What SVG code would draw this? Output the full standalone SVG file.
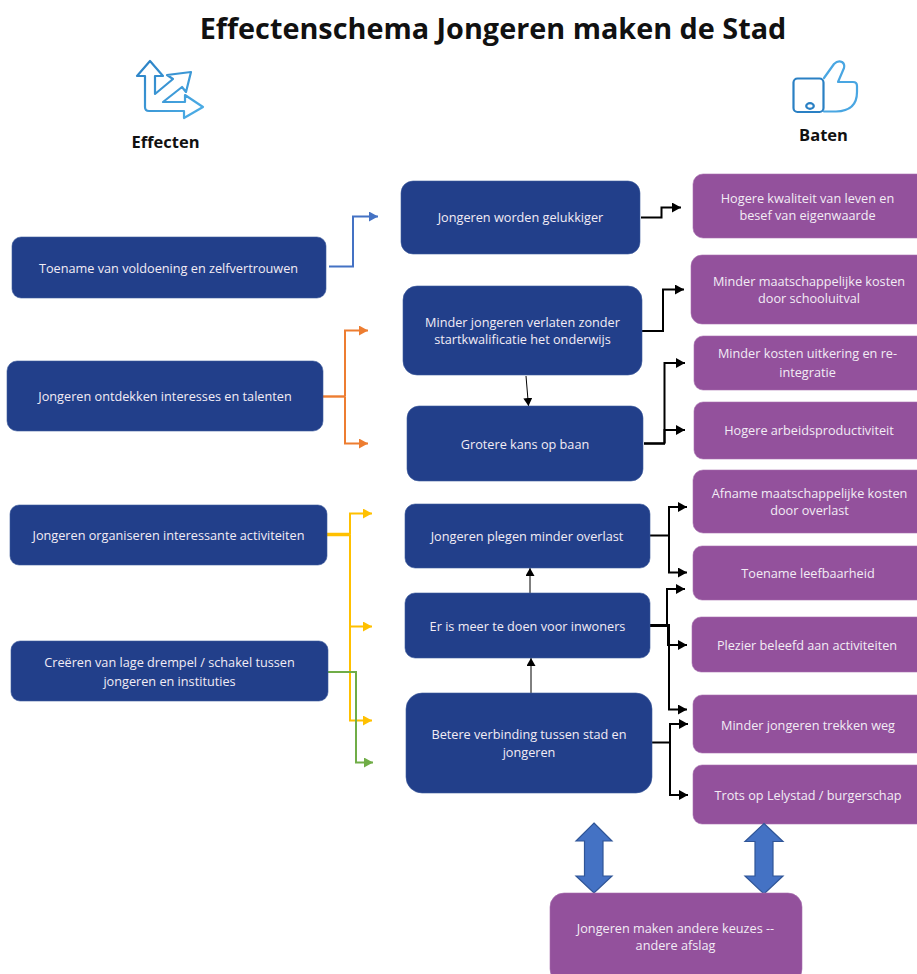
<svg xmlns="http://www.w3.org/2000/svg" width="917" height="974" viewBox="0 0 917 974">
<style>
text{font-family:"Open Sans","Noto Sans","Liberation Sans",sans-serif;text-anchor:middle}
.t{font-size:12.7px;fill:#f2ecf5}
.b rect{fill:#223f8a;stroke:#3d5a9c;stroke-width:.6}
.p rect{fill:#93519c;stroke:#a871b0;stroke-width:.6}
.h{font-weight:700;fill:#111;font-size:16.5px}
#connectors path{fill:none}
.k{stroke:#000;stroke-width:2}
.dbl{fill:#4472c4;stroke:#2f5597;stroke-width:1.2}
.ic{fill:none;stroke-linejoin:round;stroke-linecap:round;stroke-width:2.2}
</style>
<defs>
<linearGradient id="gi" x1="0" y1="0" x2="1" y2="1"><stop offset="0" stop-color="#2a80c4"/><stop offset="1" stop-color="#4fb0e8"/></linearGradient>
<marker id="mk" markerUnits="userSpaceOnUse" markerWidth="9" markerHeight="10" refX="9" refY="5" orient="auto"><path d="M0 0L9 5L0 10Z" fill="#000"/></marker>
<marker id="mb" markerUnits="userSpaceOnUse" markerWidth="9" markerHeight="10" refX="9" refY="5" orient="auto"><path d="M0 0L9 5L0 10Z" fill="#4472c4"/></marker>
<marker id="mo" markerUnits="userSpaceOnUse" markerWidth="9" markerHeight="10" refX="9" refY="5" orient="auto"><path d="M0 0L9 5L0 10Z" fill="#ed7d31"/></marker>
<marker id="my" markerUnits="userSpaceOnUse" markerWidth="9" markerHeight="10" refX="9" refY="5" orient="auto"><path d="M0 0L9 5L0 10Z" fill="#ffc000"/></marker>
<marker id="mg" markerUnits="userSpaceOnUse" markerWidth="9" markerHeight="10" refX="9" refY="5" orient="auto"><path d="M0 0L9 5L0 10Z" fill="#70ad47"/></marker>
<marker id="ms" markerUnits="userSpaceOnUse" markerWidth="8" markerHeight="9" refX="8" refY="4.5" orient="auto"><path d="M0 0L8 4.5L0 9Z" fill="#000"/></marker>
</defs>
<text x="493" y="39" font-size="28.800" font-weight="700" fill="#111">Effectenschema Jongeren maken de Stad</text>

<g id="icon-effecten" class="ic">
<path stroke="url(#gi)" d="M150 61L163 76H155V94L173 79L167 75L191 72L186 92L182 87L163 102H185V95L203 107L184 118V111H149Q145 111 145 107V76H137Z"/>
</g>
<text class="h" x="165.500" y="147.500">Effecten</text>

<g id="icon-baten" class="ic">
<rect x="793.500" y="78.500" width="30" height="33.500" rx="4" stroke="#2a80c4"/>
<ellipse cx="810" cy="106" rx="3.800" ry="2.800" stroke="#2a80c4"/>
<path stroke="#49a6e2" d="M824 78L834 64Q838 60 842 62Q845 64 844 68L838 82H853Q857 82 857 86V92Q857 111 836 111.500H824"/>
</g>
<text class="h" x="823.500" y="140.500">Baten</text>

<g id="connectors">
<path stroke="#4472c4" stroke-width="2" marker-end="url(#mb)" d="M329 266.500H353V216.500H378"/>
<path stroke="#ed7d31" stroke-width="2.400" d="M323 396.500H345"/>
<path stroke="#ed7d31" stroke-width="2" marker-end="url(#mo)" d="M345 396.500V330.500H368"/>
<path stroke="#ed7d31" stroke-width="2" marker-end="url(#mo)" d="M345 396.500V443.500H368"/>
<path stroke="#ffc000" stroke-width="3.500" d="M327 534.500H350"/>
<path stroke="#ffc000" stroke-width="2" marker-end="url(#my)" d="M350 534.500V513.500H372"/>
<path stroke="#ffc000" stroke-width="2" marker-end="url(#my)" d="M350 534.500V626.500H372"/>
<path stroke="#ffc000" stroke-width="2" marker-end="url(#my)" d="M350 534.500V720.500H372"/>
<path stroke="#70ad47" stroke-width="2" marker-end="url(#mg)" d="M328 672H356V762.500H373"/>

<path class="k" marker-end="url(#mk)" d="M641 217.500H661.500V207.500H681"/>
<path class="k" marker-end="url(#mk)" d="M642 331H663V289.500H684"/>
<path stroke="#000" stroke-width="2.600" d="M644 443.500H665"/>
<path class="k" marker-end="url(#mk)" d="M664.500 443.500V363H685"/>
<path class="k" marker-end="url(#mk)" d="M664.500 443.500V430H685"/>
<path class="k" marker-end="url(#mk)" d="M650 535.500H669V507H687"/>
<path class="k" marker-end="url(#mk)" d="M669 535.500V572.500H687"/>
<path stroke="#000" stroke-width="3" d="M650 625.500H668.500V645"/>
<path class="k" marker-end="url(#mk)" d="M667 625.500V589H685"/>
<path class="k" marker-end="url(#mk)" d="M667 645H687"/>
<path class="k" marker-end="url(#mk)" d="M669 625.500V709.500H687"/>
<path class="k" marker-end="url(#mk)" d="M652 742.500H670V724H688"/>
<path class="k" marker-end="url(#mk)" d="M670 742.500V795H688"/>
<path stroke="#000" stroke-width="1" marker-end="url(#ms)" d="M526 376L528.500 406"/>
<path stroke="#000" stroke-width="1" marker-end="url(#ms)" d="M530 593V568"/>
<path stroke="#000" stroke-width="1" marker-end="url(#ms)" d="M531 693V658"/>
</g>

<g id="n1" class="b"><rect x="12" y="237" width="314" height="61" rx="9"/><text class="t" x="168.500" y="272.500">Toename van voldoening en zelfvertrouwen</text></g>
<g id="n2" class="b"><rect x="7" y="361" width="316" height="70" rx="10"/><text class="t" x="165" y="400.500">Jongeren ontdekken interesses en talenten</text></g>
<g id="n3" class="b"><rect x="10" y="505" width="317" height="60" rx="9"/><text class="t" x="168.500" y="539.500">Jongeren organiseren interessante activiteiten</text></g>
<g id="n4" class="b"><rect x="11" y="641" width="317" height="60" rx="9"/><text class="t" x="169.500" y="666.500">Creëren van lage drempel / schakel tussen</text><text class="t" x="169.500" y="685.500">jongeren en instituties</text></g>
<g id="n5" class="b"><rect x="401" y="181" width="239" height="73" rx="12"/><text class="t" x="520.500" y="222">Jongeren worden gelukkiger</text></g>
<g id="n6" class="b"><rect x="403" y="286" width="239" height="89" rx="14"/><text class="t" x="522.500" y="327">Minder jongeren verlaten zonder</text><text class="t" x="522.500" y="344">startkwalificatie het onderwijs</text></g>
<g id="n7" class="b"><rect x="407" y="406" width="236" height="75" rx="12"/><text class="t" x="525" y="449">Grotere kans op baan</text></g>
<g id="n8" class="b"><rect x="405" y="504" width="245" height="64" rx="10"/><text class="t" x="527" y="541">Jongeren plegen minder overlast</text></g>
<g id="n9" class="b"><rect x="405" y="593" width="245" height="65" rx="10"/><text class="t" x="527.500" y="631">Er is meer te doen voor inwoners</text></g>
<g id="n10" class="b"><rect x="406" y="693" width="246" height="100" rx="16"/><text class="t" x="529" y="739">Betere verbinding tussen stad en</text><text class="t" x="529" y="757">jongeren</text></g>

<g id="b1" class="p"><rect x="693" y="174" width="240" height="64" rx="10"/><text class="t" x="807.500" y="203">Hogere kwaliteit van leven en</text><text class="t" x="807.500" y="220">besef van eigenwaarde</text></g>
<g id="b2" class="p"><rect x="691" y="255" width="240" height="69" rx="11"/><text class="t" x="809" y="286">Minder maatschappelijke kosten</text><text class="t" x="809" y="303">door schooluitval</text></g>
<g id="b3" class="p"><rect x="694" y="336" width="240" height="54" rx="9"/><text class="t" x="807.500" y="358">Minder kosten uitkering en re-</text><text class="t" x="807.500" y="377">integratie</text></g>
<g id="b4" class="p"><rect x="694" y="402" width="240" height="57" rx="9"/><text class="t" x="809" y="435">Hogere arbeidsproductiviteit</text></g>
<g id="b5" class="p"><rect x="693" y="470" width="240" height="63" rx="10"/><text class="t" x="809.500" y="498">Afname maatschappelijke kosten</text><text class="t" x="809.500" y="515">door overlast</text></g>
<g id="b6" class="p"><rect x="693" y="546" width="240" height="54" rx="9"/><text class="t" x="808" y="578">Toename leefbaarheid</text></g>
<g id="b7" class="p"><rect x="692" y="617" width="240" height="55" rx="9"/><text class="t" x="807" y="650">Plezier beleefd aan activiteiten</text></g>
<g id="b8" class="p"><rect x="693" y="695" width="240" height="58" rx="9"/><text class="t" x="808" y="730">Minder jongeren trekken weg</text></g>
<g id="b9" class="p"><rect x="693" y="765" width="240" height="59" rx="9"/><text class="t" x="808" y="800">Trots op Lelystad / burgerschap</text></g>

<path class="dbl" d="M594 823L612 841H603V876H612L594 893L576 876H584.500V841H576Z"/>
<path class="dbl" d="M764 823.500L783 841.500H773V876H783L764 894L745 876H755V841.500H745Z"/>

<g id="b10" class="p"><rect x="550" y="893" width="252" height="90" rx="14"/><text class="t" x="675.500" y="933">Jongeren maken andere keuzes --</text><text class="t" x="675.500" y="950">andere afslag</text></g>
</svg>
